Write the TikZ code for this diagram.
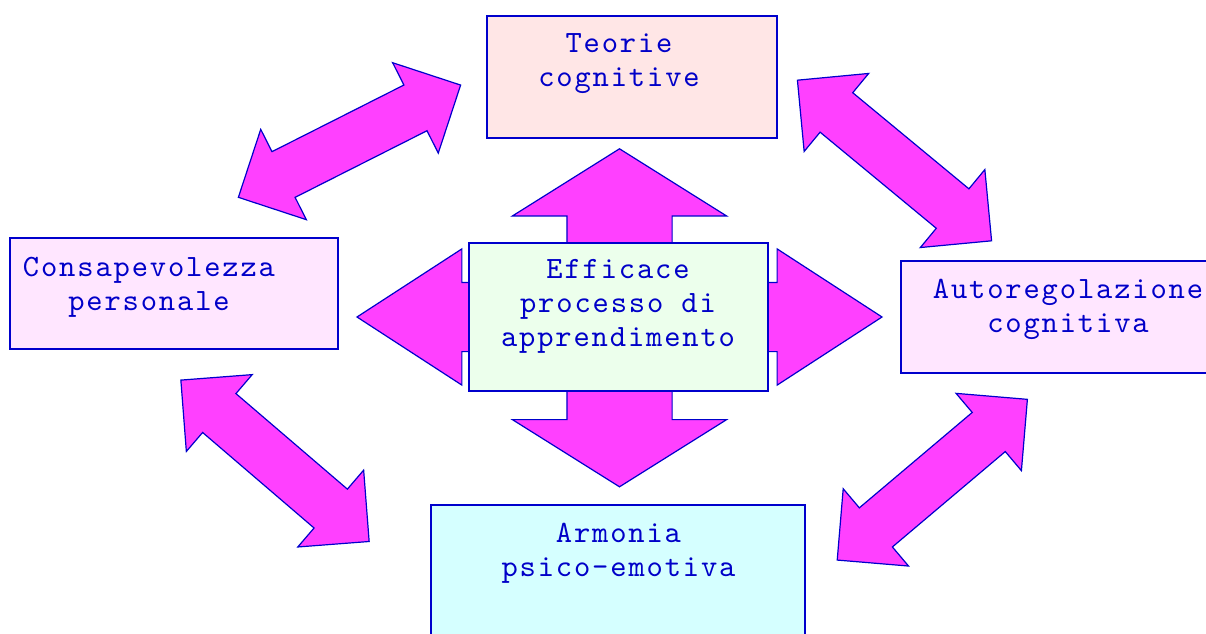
\documentclass[tikz,border=0pt]{standalone}
\usepackage{fontspec}
\newfontfamily\mapfont[LetterSpace=6]{lmmono10-regular.otf}
\usetikzlibrary{shapes.arrows}
\definecolor{edgeblue}{RGB}{0,0,204}
\definecolor{textblue}{RGB}{0,0,200}
\definecolor{arrowpink}{RGB}{255,64,255}
\definecolor{teoriefill}{RGB}{255,230,230}
\definecolor{lilacfill}{RGB}{255,230,255}
\definecolor{mintfill}{RGB}{236,255,236}
\definecolor{cyanfill}{RGB}{213,255,255}
\tikzset{
  conceptbox/.style={draw=edgeblue, line width=1.5pt, inner sep=0pt},
  boxtext/.style={text=textblue, font=\mapfont\fontsize{31}{34}\selectfont, align=center, inner sep=0pt},
  arrowbase/.style={double arrow, draw=edgeblue, fill=arrowpink, line width=1.2pt, inner xsep=0pt},
  bigarrow/.style={arrowbase, inner ysep=25pt, minimum height=#1, minimum width=100pt,
    double arrow head extend=25pt, double arrow tip angle=90},
}
\begin{document}
\begin{tikzpicture}[x=1pt,y=1pt]
  \useasboundingbox (0,0) rectangle (1206,633);
  % diagonal arrows between the outer boxes
  \node[bigarrow=249, rotate=26.8] (arrTL) at (349.5,491.8) {};
  \node[bigarrow=252, rotate=-39.6] (arrTR) at (894.5,472.5) {};
  \node[bigarrow=248, rotate=-40.6] (arrBL) at (275,172.2) {};
  \node[bigarrow=249, rotate=40.2] (arrBR) at (932.3,153.3) {};
  % cross behind the centre box
  \node[arrowbase, rotate=90, minimum height=338, minimum width=213, inner ysep=52pt,
    double arrow head extend=54.5pt, double arrow tip angle=115.8] (arrV) at (619.5,315.2) {};
  \node[arrowbase, minimum height=525, minimum width=135, inner ysep=34pt,
    double arrow head extend=33.5pt, double arrow tip angle=66] (arrH) at (619.5,316) {};
  % boxes
  \node[conceptbox, fill=teoriefill, minimum width=290, minimum height=122] (teorie) at (632,556) {};
  \node[boxtext] (teorietxt) at (619,569.5) {Teorie\\cognitive};
  \node[conceptbox, fill=lilacfill, minimum width=328, minimum height=111] (consap) at (174,339.5) {};
  \node[boxtext] (consaptxt) at (149,345.5) {Consapevolezza\\personale};
  \node[conceptbox, fill=mintfill, minimum width=299, minimum height=148] (efficace) at (618.5,316) {};
  \node[boxtext] (efficacetxt) at (618,327) {Efficace\\processo di\\apprendimento};
  \node[conceptbox, fill=lilacfill, minimum width=311, minimum height=112] (autoreg) at (1056.5,316) {};
  \node[boxtext] (autoregtxt) at (1068,324) {Autoregolazione\\cognitiva};
  \node[conceptbox, fill=cyanfill, minimum width=374, minimum height=145] (armonia) at (618,55.5) {};
  \node[boxtext] (armoniatxt) at (618.5,80) {Armonia\\psico-emotiva};
\end{tikzpicture}
\end{document}
